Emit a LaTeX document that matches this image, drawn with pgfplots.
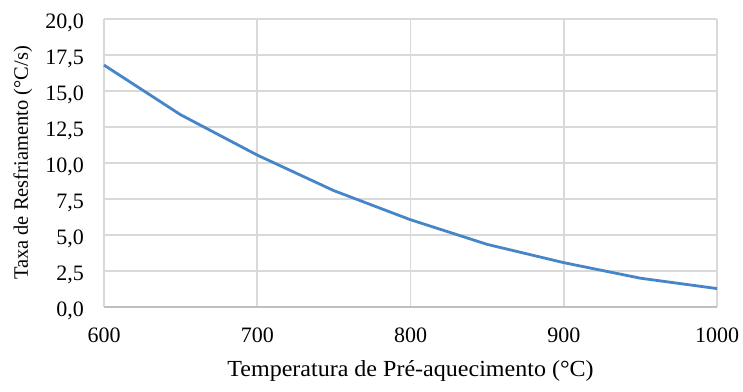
\documentclass[border=0pt]{standalone}
\usepackage{pgfplots}
\pgfplotsset{compat=1.18}
\usepackage{fontspec}
\setmainfont{Liberation Serif}
\newfontfamily\wideserif{Liberation Serif}[FakeStretch=1.045]
\definecolor{lineblue}{RGB}{70,134,200}
\definecolor{gridgray}{RGB}{217,217,217}
\definecolor{axgray}{RGB}{191,191,191}
\begin{document}
\begin{tikzpicture}[x=1bp,y=1bp]
\path[use as bounding box] (0,0) rectangle (743,391);
\begin{axis}[
  at={(104bp,84bp)}, anchor=south west,
  scale only axis,
  width=613bp, height=288bp,
  xmin=600, xmax=1000, ymin=0, ymax=20,
  xtick={600,700,...,1000},
  xticklabels={\mbox{600},\mbox{700},\mbox{800},\mbox{900},\mbox{1000}},
  ytick={0,2.5,...,20},
  yticklabels={\mbox{0,0},\mbox{2,5},\mbox{5,0},\mbox{7,5},\mbox{10,0},\mbox{12,5},\mbox{15,0},\mbox{17,5},\mbox{20,0}},
  grid=major,
  major grid style={gridgray, line width=1.6bp},
  axis line style={draw=none},
  axis x line*=bottom,
  axis y line*=left,
  tick style={draw=none},
  ticklabel style={font=\rmfamily\fontsize{22bp}{26bp}\selectfont, inner sep=0pt},
  xticklabel shift=0pt,
  yticklabel shift=0pt,
  xticklabel style={anchor=base, yshift=-35bp},
  yticklabel style={anchor=base east, xshift=-20bp, yshift=-9.5bp},
  xlabel style={font=\wideserif\fontsize{23bp}{27bp}\selectfont, inner sep=0pt,
    at={(axis description cs:0.5,-0.243)}, anchor=base},
  ylabel style={font=\rmfamily\fontsize{20.5bp}{24bp}\selectfont, inner sep=0pt,
    at={(axis description cs:-0.124,0.5)}, anchor=base},
  xlabel={Temperatura de Pré-aquecimento (°C)},
  ylabel={Taxa de Resfriamento (°C/s)},
  clip=false,
]
\draw[axgray, line width=2bp] (axis cs:600,0) -- (axis cs:1000,0);
\addplot[lineblue, line width=2.8bp, no marks] coordinates {
(600,16.8) (650,13.35) (700,10.55) (750,8.08) (800,6.06) (850,4.35) (900,3.08) (950,2.0) (1000,1.28)
};
\end{axis}
\end{tikzpicture}
\end{document}
